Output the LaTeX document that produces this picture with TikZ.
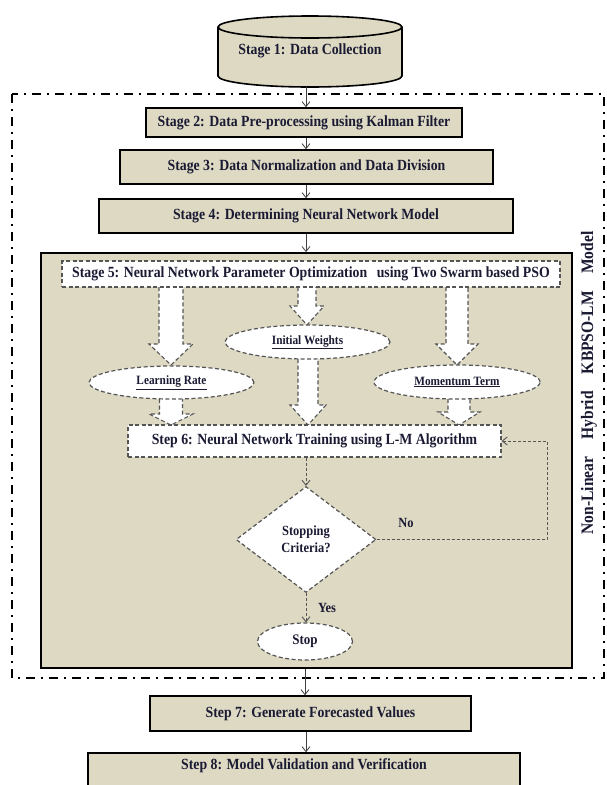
\documentclass[tikz,border=0pt]{standalone}
\usepackage{fontspec}
\setmainfont{Liberation Serif}[FakeStretch=0.89]
\usetikzlibrary{shapes.geometric,arrows.meta,calc}
\definecolor{tanfill}{HTML}{DDD9C3}
\definecolor{txt}{HTML}{1A1A33}
\definecolor{dgray}{HTML}{555555}
\tikzset{
  mainfont/.style={font=\bfseries\fontsize{15.5}{17}\selectfont, text=txt},
  solidbox/.style={draw=black, line width=1.6pt, fill=tanfill, inner sep=0pt, mainfont},
  dashbox/.style={draw=dgray, line width=1.2pt, dash pattern=on 4pt off 2.5pt, fill=white, inner sep=0pt, mainfont},
  dashell/.style={ellipse, draw=dgray, line width=1.2pt, dash pattern=on 4pt off 2.5pt, fill=white, inner sep=0pt,
     font=\bfseries\fontsize{12.7}{14}\selectfont, text=txt},
  dashdia/.style={diamond, draw=dgray, line width=1.2pt, dash pattern=on 4pt off 2.5pt, fill=white, inner sep=0pt,
     align=center, font=\bfseries\fontsize{14}{17}\selectfont, text=txt},
  bigbox/.style={draw=black, line width=1.8pt, fill=tanfill, inner sep=0pt},
  frame/.style={draw=black, line width=1.5pt, dash pattern=on 9pt off 6pt on 2pt off 6pt},
  conn/.style={draw=black!75, line width=0.8pt, -{Straight Barb[length=5pt,width=8pt]}},
  dconn/.style={draw=dgray, line width=0.9pt, dash pattern=on 3pt off 2pt, -{Straight Barb[length=5pt,width=8pt]}},
  blk/.style={draw=dgray, line width=1.1pt, dash pattern=on 4pt off 2.5pt},
  lbl/.style={inner sep=0pt, mainfont},
  lbltwo/.style={inner sep=0pt, font=\bfseries\fontsize{14}{16}\selectfont, text=txt},
  sidelbl/.style={inner sep=0pt, font=\bfseries\fontsize{17.5}{19}\selectfont, text=txt},
}
% x, ytop, yhead, ytip, shaft half width, head half width
\newcommand\blockarr[6]{%
  \fill[white] (#1-#5,#2) -- (#1-#5,#3) -- (#1-#6,#3) -- (#1,#4) -- (#1+#6,#3) -- (#1+#5,#3) -- (#1+#5,#2) -- cycle;
  \draw[blk] (#1-#5,#2) -- (#1-#5,#3) -- (#1-#6,#3) -- (#1,#4) -- (#1+#6,#3) -- (#1+#5,#3) -- (#1+#5,#2);
}
\begin{document}
\begin{tikzpicture}[x=1pt,y=-1pt]
\useasboundingbox (0,0) rectangle (606,785);
\fill[white] (0,0) rectangle (606,785);

% outer dash-dot frame
\draw[frame] (12,94) rectangle (604,678);

% big container
\node[bigbox, minimum width=531pt, minimum height=415pt] (big) at (306.5,460.5) {};

% block arrows
\blockarr{171}{287}{344}{365}{12}{22}
\blockarr{307}{287}{306}{325}{9}{17}
\blockarr{457}{287}{344}{365}{11}{21}
\blockarr{171}{399}{414}{425}{11.5}{22}
\blockarr{308}{359}{405}{425}{10}{18}
\blockarr{459}{399}{412}{425}{11}{21}

% cylinder
\draw[line width=1.6pt, fill=tanfill] (218,27) -- (218,76)
   arc[start angle=180, end angle=360, x radius=92pt, y radius=11pt] -- (402,27);
\draw[line width=1.6pt, fill=tanfill] (310,27) ellipse [x radius=92pt, y radius=11pt];
\node[lbl, minimum width=184pt, minimum height=72pt] (cyl) at (310,51) {Stage 1: Data Collection};

% stages
\node[solidbox, minimum width=316pt, minimum height=29pt] (s2) at (304,122.5) {Stage 2: Data Pre-processing using Kalman Filter};
\node[solidbox, minimum width=373pt, minimum height=34pt] (s3) at (306.5,167) {Stage 3: Data Normalization and Data Division};
\node[solidbox, minimum width=414pt, minimum height=34pt] (s4) at (306,216) {Stage 4: Determining Neural Network Model};
\node[dashbox, minimum width=498pt, minimum height=26pt] (s5) at (311,274) {Stage 5: Neural Network Parameter Optimization\hspace{0.4em} using Two Swarm based PSO};

\node[dashell, minimum width=165pt, minimum height=34pt] (iw) at (307.5,342) {\underline{Initial Weights}};
\node[dashell, minimum width=165pt, minimum height=33pt] (lr) at (171.5,382.5) {\underline{Learning Rate}};
\node[dashell, minimum width=166pt, minimum height=34pt] (mt) at (457,382) {\underline{Momentum Term}};

\node[dashbox, minimum width=373pt, minimum height=32pt] (s6) at (314.5,441) {Step 6: Neural Network Training using L-M Algorithm};
\node[dashdia, minimum width=140pt, minimum height=106pt] (dia) at (306,539.5) {Stopping\\Criteria?};
\node[dashell, minimum width=95pt, minimum height=37pt, font=\bfseries\fontsize{14.6}{16}\selectfont] (stop) at (305,641.5) {Stop};

\node[solidbox, minimum width=321pt, minimum height=35pt] (s7) at (310.5,713.5) {Step 7: Generate Forecasted Values};
\node[solidbox, minimum width=432pt, minimum height=50pt] (s8) at (304,778) {};
\node[lbl] (s8t) at (304,766) {Step 8: Model Validation and Verification};

% connectors
\draw[conn] (cyl.south -| s4.north) -- (s2.north -| s4.north);
\draw[conn] (s2.south -| s4.north) -- (s3.north -| s4.north);
\draw[conn] (s3.south -| s4.north) -- (s4.north);
\draw[conn] (s4.south) -- (big.north -| s4.south);
\draw[dconn] (s6.south -| dia.north) -- (dia.north);
\draw[dconn] (dia.south) -- (stop.north -| dia.south);
\coordinate (fb) at (547,539.5);
\draw[dconn] (dia.east) -- (fb) |- (s6.east);
\node[lbltwo] (no) at (406,523) {No};
\node[lbltwo] (yes) at (327,608) {Yes};
\draw[conn] (big.south -| stop.south) -- (s7.north -| stop.south);
\draw[conn] (s7.south -| s4.south) -- (s8.north -| s4.south);

% vertical label
\node[sidelbl, rotate=90] (vl) at (589,383) {\makebox[303pt][s]{Non-Linear Hybrid KBPSO-LM Model}};
\end{tikzpicture}
\end{document}
